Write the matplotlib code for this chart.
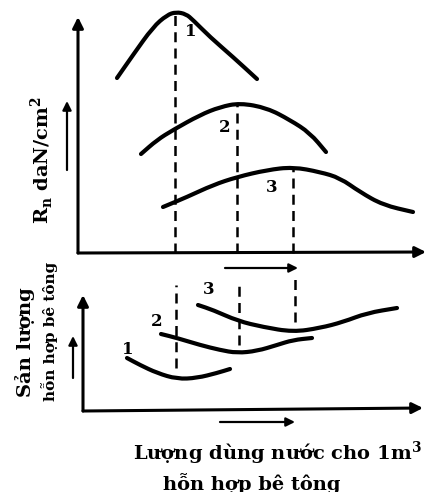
import matplotlib
matplotlib.use('Agg')
import matplotlib.pyplot as plt
from matplotlib.path import Path
from matplotlib.patches import PathPatch

plt.rcParams['font.family'] = ['DejaVu Serif']
plt.rcParams['font.weight'] = 'bold'

# --- data (arbitrary units, shared x = water use) ---
# upper panel: strength R_n for three mixes
strength_1_x = [39, 55, 75, 89, 98, 108, 115, 132, 155, 179]
strength_1_y = [175, 198, 226, 238, 241, 239, 233, 216, 196, 174]
strength_2_x = [63, 79, 95, 122, 142, 162, 189, 212, 232, 248]
strength_2_y = [99, 113, 123, 138, 146, 150, 145, 133, 120, 101]
strength_3_x = [85, 109, 135, 159, 189, 215, 242, 262, 282, 305, 335]
strength_3_y = [46, 56, 68, 76, 83, 86, 81, 75, 61, 48, 41]

# lower panel: concrete mix output for the same three mixes
output_1_x = [49, 62, 79, 99, 119, 139, 152]
output_1_y = [53, 46, 38, 32, 33, 38, 42]
output_2_x = [83, 99, 122, 142, 159, 179, 199, 215, 234]
output_2_y = [77, 73, 66, 61, 58, 60, 66, 71, 73]
output_3_x = [120, 135, 160, 185, 215, 242, 265, 289, 319]
output_3_y = [106, 101, 90, 84, 79, 83, 89, 98, 103]

# optimum water use of each mix (dashed lines)
opt_x = [97, 159, 215]
opt_top_upper = [238, 149, 84]
opt_lower_x = [98, 161, 217]
opt_lower_top = [126, 131, 134]
opt_lower_bot = [43, 66, 89]

curve_labels = ['1', '2', '3']
upper_label_xy = [(107, 221), (141, 126), (188, 65)]
lower_label_xy = [(50, 61), (79, 90), (131, 121)]

W, H = 427, 492
fig = plt.figure(figsize=(W / 100, H / 100), dpi=100)

def frame(px_left, py_top, py_bottom):
    ax = fig.add_axes([px_left / W, (H - py_bottom) / H,
                       (W - px_left) / W, (py_bottom - py_top) / H])
    ax.set_xlim(0, W - px_left)
    ax.set_ylim(0, py_bottom - py_top)
    ax.axis('off')
    return ax

def smooth_curve(ax, xs, ys):
    # quadratic bezier path through the midpoints, read points as controls
    pts = list(zip(xs, ys))
    verts = [pts[0]]
    codes = [Path.MOVETO]
    mid = lambda a, b: ((a[0] + b[0]) / 2, (a[1] + b[1]) / 2)
    verts.append(mid(pts[0], pts[1]))
    codes.append(Path.LINETO)
    for i in range(1, len(pts) - 1):
        verts += [pts[i], mid(pts[i], pts[i + 1])]
        codes += [Path.CURVE3, Path.CURVE3]
    verts.append(pts[-1])
    codes.append(Path.LINETO)
    ax.add_patch(PathPatch(Path(verts, codes), fill=False, lw=3.0,
                           edgecolor='black', capstyle='round',
                           joinstyle='round', clip_on=False))

ax1 = frame(78, 12, 253)
ax2 = frame(78, 260, 411)

arrow_big = dict(arrowstyle='-|>', lw=2.2, color='black', mutation_scale=16, shrinkA=0, shrinkB=0)
arrow_small = dict(arrowstyle='-|>', lw=1.6, color='black', mutation_scale=13, shrinkA=0, shrinkB=0)

def arrow(ax, x0, y0, x1, y1, props):
    ax.annotate('', xy=(x1, y1), xytext=(x0, y0), arrowprops=props,
                annotation_clip=False)

# upper panel
for xs, ys in [(strength_1_x, strength_1_y), (strength_2_x, strength_2_y),
               (strength_3_x, strength_3_y)]:
    smooth_curve(ax1, xs, ys)
for x, top in zip(opt_x, opt_top_upper):
    ax1.plot([x, x], [0, top], color='black', lw=1.8, ls=(0, (4, 2.5)), clip_on=False)
for lab, (x, y) in zip(curve_labels, upper_label_xy):
    ax1.text(x, y, lab, fontsize=12, ha='left', va='center')

arrow(ax1, 0, 0, 0, 236, arrow_big)
arrow(ax1, 0, 0, 348, 1, arrow_big)
arrow(ax1, -11, 83, -11, 152, arrow_small)
ax1.text(-36, 93, r'R$_{\mathregular{n}}$ daN/cm$^{\mathregular{2}}$', fontsize=14,
         rotation=90, ha='center', va='center')

# lower panel
for xs, ys in [(output_1_x, output_1_y), (output_2_x, output_2_y),
               (output_3_x, output_3_y)]:
    smooth_curve(ax2, xs, ys)
for x, top, bot in zip(opt_lower_x, opt_lower_top, opt_lower_bot):
    ax2.plot([x, x], [bot, top], color='black', lw=1.8, ls=(0, (4, 2.5)), clip_on=False)
for lab, (x, y) in zip(curve_labels, lower_label_xy):
    ax2.text(x, y, lab, fontsize=12, ha='center', va='center')

arrow(ax2, 5, 0, 5, 116, arrow_big)
arrow(ax2, 5, 0, 345, 3, arrow_big)
arrow(ax2, -5, 33, -5, 75, arrow_small)
arrow(ax2, 147, 143, 220, 143, arrow_small)
arrow(ax2, 142, -11, 217, -11, arrow_small)

ax2.text(-53, 69, 'Sản lượng', fontsize=14, rotation=90, ha='center', va='center')
ax2.text(-28, 80, 'hỗn hợp bê tông', fontsize=11, rotation=90, ha='center', va='center')
ax2.text(199, -42, 'Lượng dùng nước cho 1m$^{\\mathregular{3}}$', fontsize=14,
         ha='center', va='center')
ax2.text(174, -72, 'hỗn hợp bê tông', fontsize=14, ha='center', va='center')

fig.savefig('out.png', dpi=100, facecolor='white')
